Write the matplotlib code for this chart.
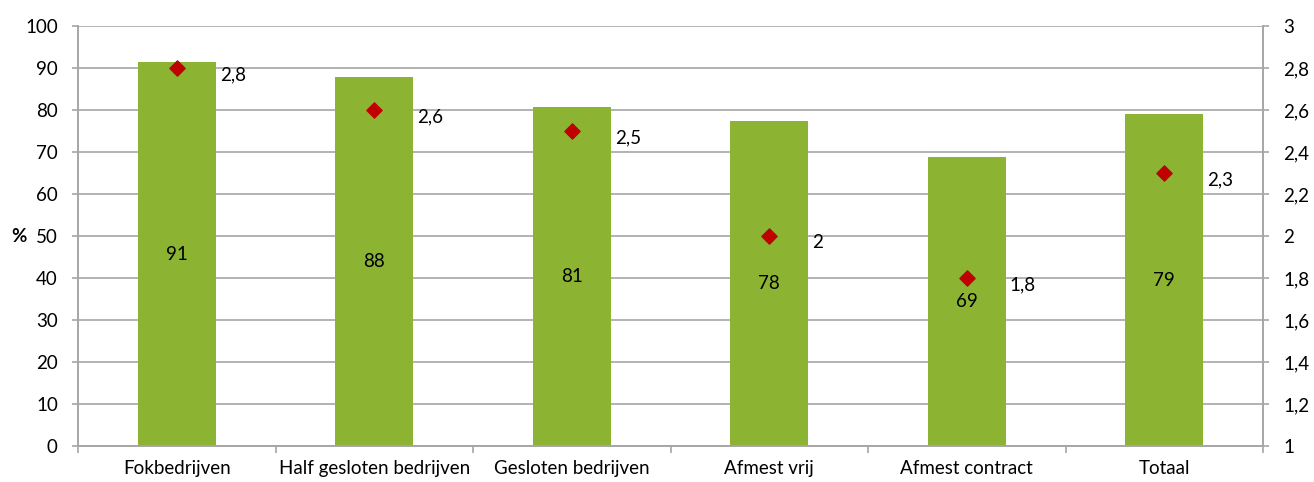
import matplotlib.pyplot as plt
import numpy as np

categories = ["Fokbedrijven", "Half gesloten bedrijven", "Gesloten bedrijven",
              "Afmest vrij", "Afmest contract", "Totaal"]
pct_values = [91.4, 87.8, 80.7, 77.5, 68.9, 79.0]
pct_labels = ["91", "88", "81", "78", "69", "79"]
ratio_values = [2.8, 2.6, 2.5, 2.0, 1.8, 2.3]
ratio_labels = ["2,8", "2,6", "2,5", "2", "1,8", "2,3"]

plt.rcParams["font.family"] = ["Lato", "DejaVu Sans"]
plt.rcParams["font.size"] = 13.5

GRID = "#A6A6A6"
BAR = "#8DB333"
DIAMOND = "#C00000"

fig = plt.figure(figsize=(13.14, 4.82), dpi=100)
ax = fig.add_axes([78 / 1314, 36 / 482, (1263 - 78) / 1314, (446 - 26) / 482])
ax2 = ax.twinx()

x = np.arange(len(categories))
ax.bar(x, pct_values, width=0.395, color=BAR, zorder=2)
for xi, v, lab in zip(x, pct_values, pct_labels):
    ax.text(xi, v / 2, lab, ha="center", va="center", color="black", zorder=3)

ax.set_xlim(-0.5, len(categories) - 0.5)
ax.set_ylim(0, 100)
ax.set_yticks(np.arange(0, 101, 10))
ax.yaxis.grid(True, color=GRID, linewidth=1.2, zorder=0)
ax.set_axisbelow(True)

ax.set_xticks(x)
ax.set_xticklabels(categories)
ax.tick_params(axis="x", length=0, pad=10)
ax.set_xticks(np.arange(-0.5, len(categories)), minor=True)
ax.tick_params(axis="x", which="minor", length=5, color=GRID, width=1.2)
ax.tick_params(axis="y", length=4.5, color=GRID, width=1.2, pad=10)

ticks2 = np.arange(1, 3.01, 0.2)
ax2.set_ylim(1, 3)
ax2.set_yticks(ticks2)
ax2.set_yticklabels([f"{t:.1f}".replace(".", ",").replace(",0", "") for t in ticks2])
ax2.tick_params(axis="y", length=4.5, color=GRID, width=1.2, pad=10)
ax2.scatter(x, ratio_values, marker="D", s=60, color=DIAMOND, zorder=4)
for xi, v, lab in zip(x, ratio_values, ratio_labels):
    ax2.annotate(lab, (xi, v), textcoords="offset points", xytext=(31, -5),
                 ha="left", va="center")

for a in (ax, ax2):
    a.spines["top"].set_visible(False)
    for s in ("left", "right", "bottom"):
        a.spines[s].set_color(GRID)
        a.spines[s].set_linewidth(1.2)

fig.text(19 / 1314, 1 - 236 / 482, "%", fontweight="bold", ha="center", va="center")

fig.savefig("out.png", dpi=100)
